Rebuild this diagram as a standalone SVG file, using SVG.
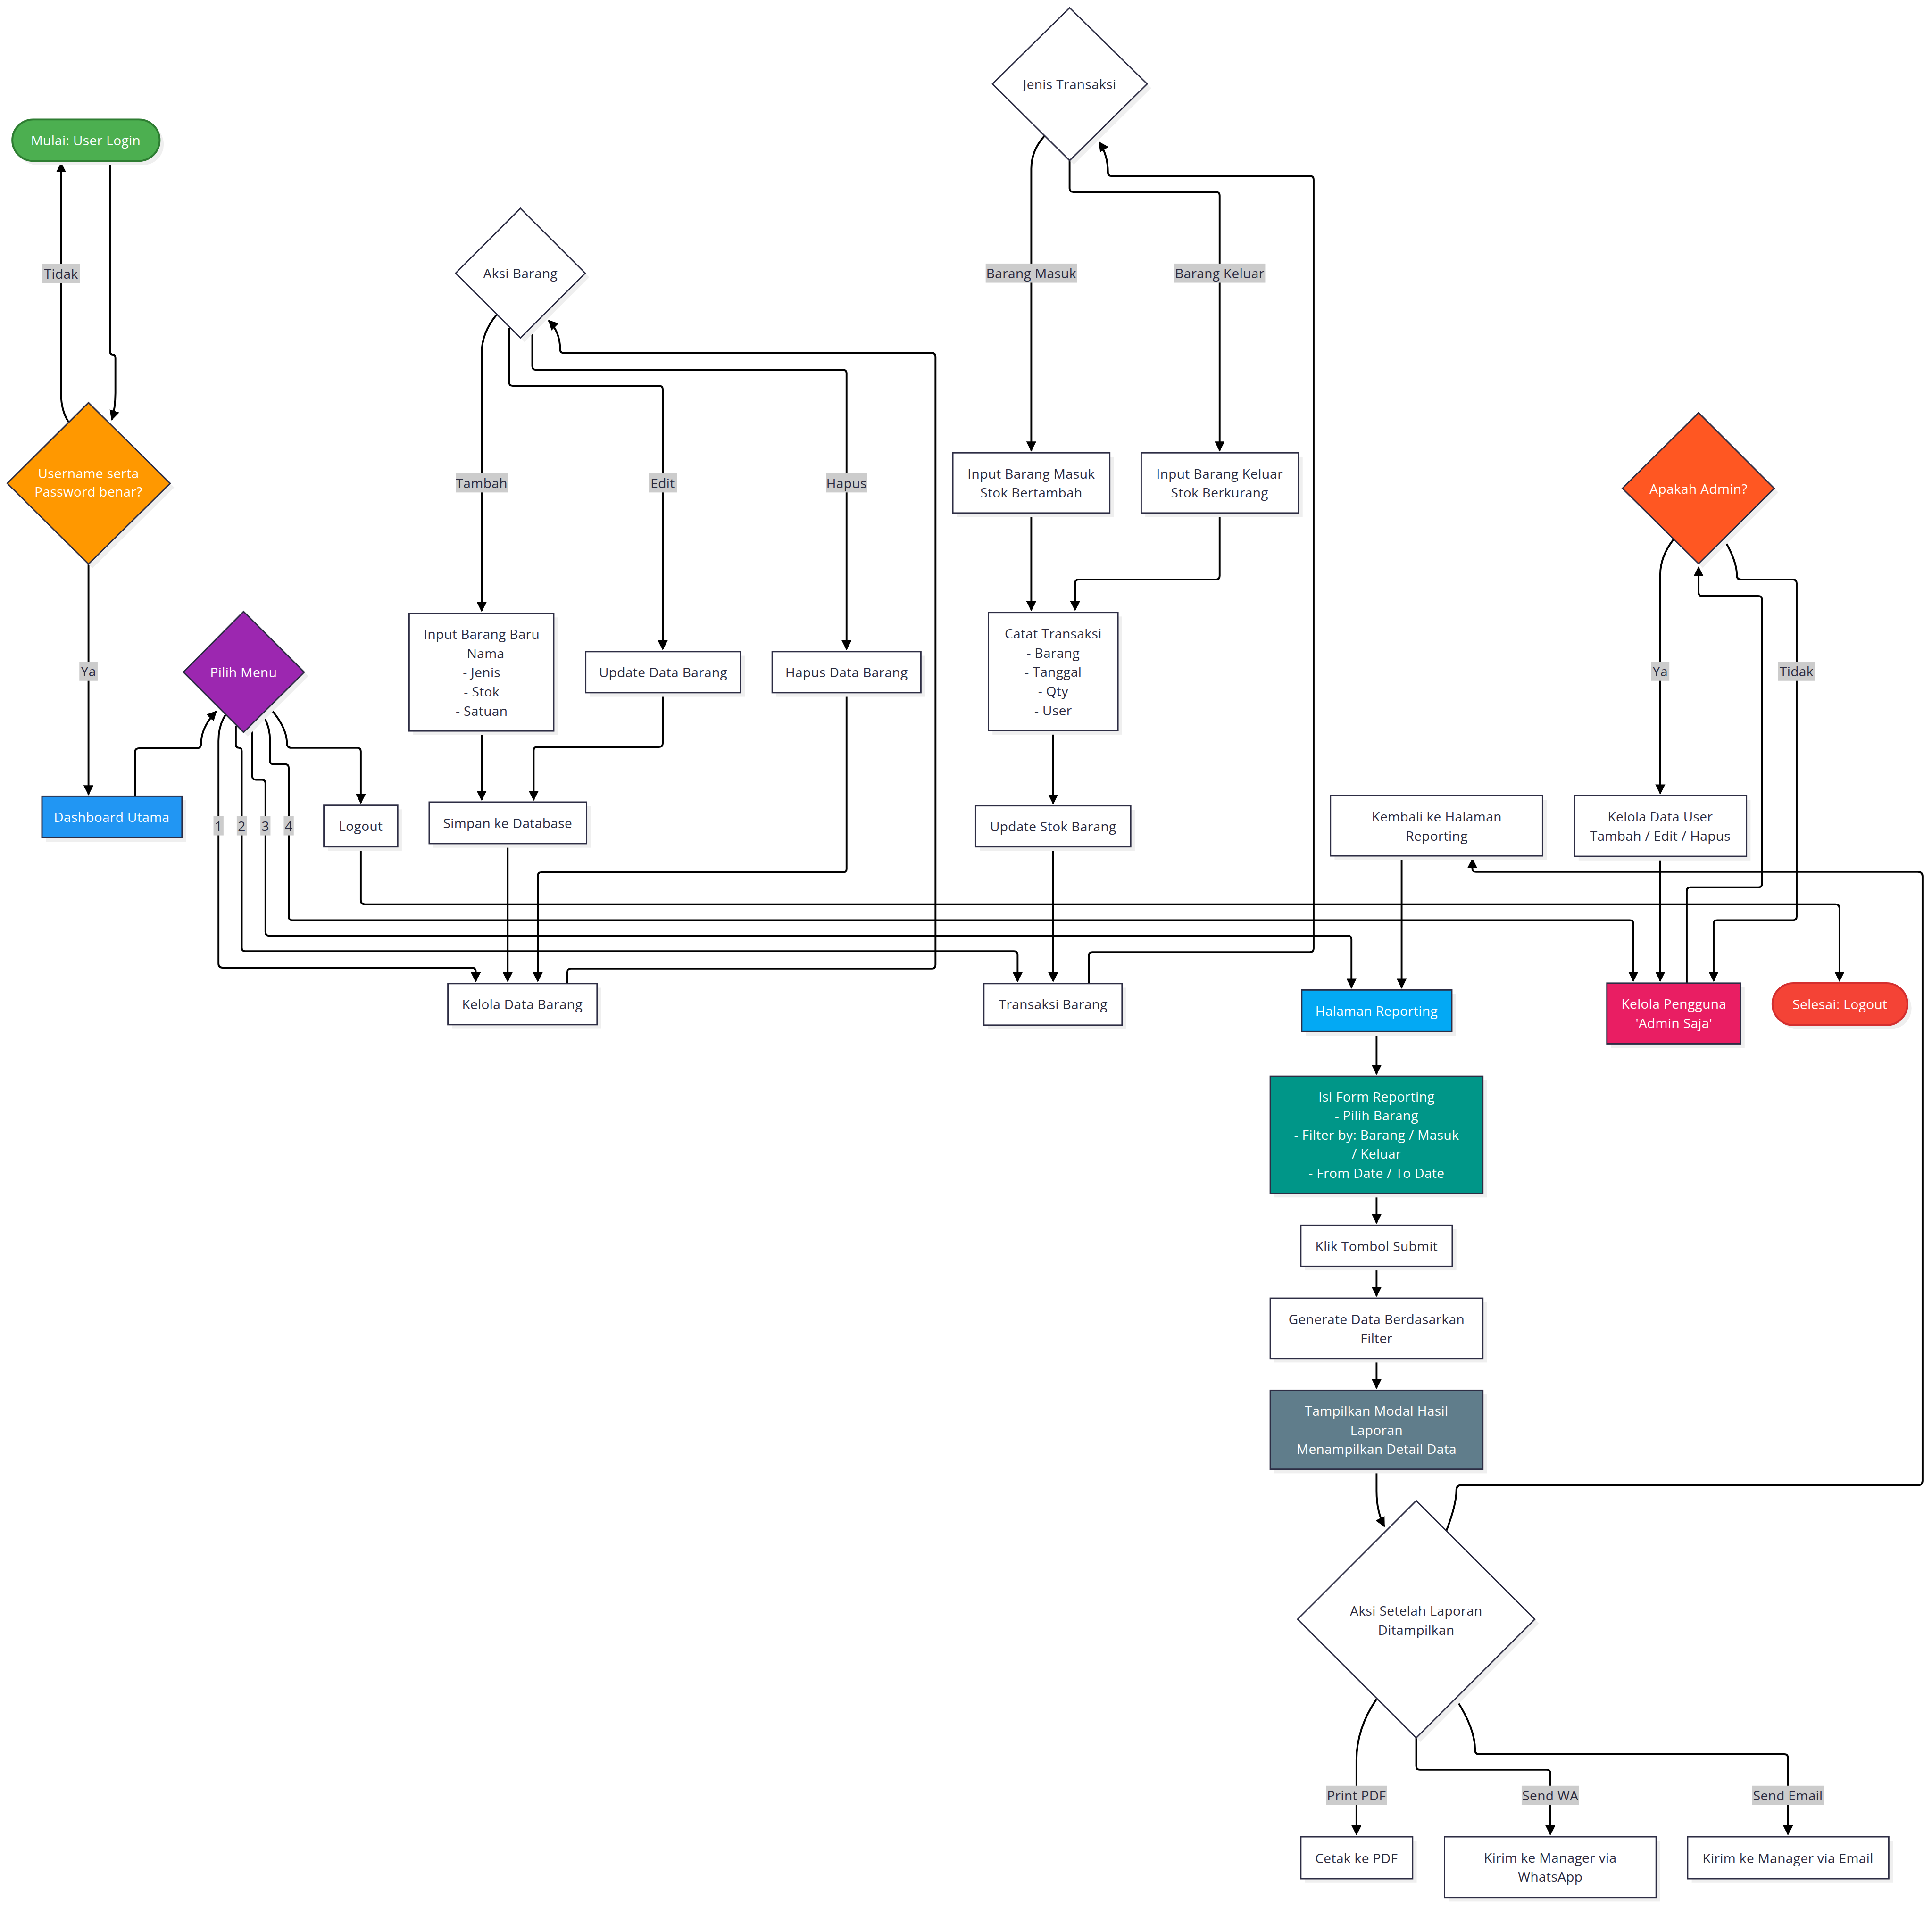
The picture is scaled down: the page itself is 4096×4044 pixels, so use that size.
<svg xmlns="http://www.w3.org/2000/svg" width="4096" height="4044" viewBox="0 0 4096 4044">
<defs>
<style>
.n{fill:#fff;stroke:#2d2d44;stroke-width:3}
.sh{fill:#efefef}
.t{font-family:'Open Sans','Noto Sans',sans-serif;font-size:29px;letter-spacing:0.4px;fill:#2b2b3f;text-anchor:middle;dominant-baseline:central}
.w{fill:#fff}
.e{fill:none;stroke:#000;stroke-width:4;marker-end:url(#ah)}
.lb{fill:#cccccc}
</style>
<marker id="ah" viewBox="0 0 10 10" refX="9" refY="5" markerUnits="userSpaceOnUse" markerWidth="22" markerHeight="22" orient="auto"><path d="M0,0 L10,5 L0,10 z" fill="#000"/></marker>
</defs>
<rect width="4096" height="4044" fill="#fff"/>
<g transform="scale(0.967)">
<g id="edges">
<path class="e" d="M241,353 V770 Q241,778 249,778 Q253,778 253,786 V862 Q253,895 245,920"/>
<path class="e" d="M150,925 Q134,900 134,865 V358"/>
<path class="e" d="M194,1237 V1742"/>
<path class="e" d="M296,1746 V1650 Q296,1641 305,1641 H431 Q441,1641 441,1630 Q441,1595 474,1560"/>
<path class="e" d="M495,1567 Q479,1590 479,1625 V2113 Q479,2122 488,2122 H1034 Q1043,2122 1043,2131 V2152"/>
<path class="e" d="M517,1592 V1633 Q517,1640 524,1640 Q530,1640 530,1647 V2078 Q530,2086 538,2086 H2223 Q2231,2086 2231,2094 V2152"/>
<path class="e" d="M553,1590 V1702 Q553,1710 561,1710 H574 Q582,1710 582,1718 V2044 Q582,2052 590,2052 H2955 Q2963,2052 2963,2060 V2166"/>
<path class="e" d="M575,1567 Q592,1590 592,1625 V1668 Q592,1676 600,1676 H625 Q633,1676 633,1684 V2010 Q633,2018 641,2018 H3573 Q3581,2018 3581,2026 V2151"/>
<path class="e" d="M592,1553 Q629,1595 629,1630 Q629,1640 639,1640 H783 Q791,1640 791,1648 V1761"/>
<path class="e" d="M791,1857 V1974 Q791,1983 800,1983 H4024 Q4033,1983 4033,1992 V2151"/>
<path class="e" d="M1244,2157 V2132 Q1244,2124 1252,2124 H2043 Q2051,2124 2051,2116 V782 Q2051,774 2043,774 H1236 Q1228,774 1228,766 Q1228,728 1203,703"/>
<path class="e" d="M1088,691 Q1056,730 1056,775 V1340"/>
<path class="e" d="M1116,719 V838 Q1116,846 1124,846 H1445 Q1453,846 1453,854 V1424"/>
<path class="e" d="M1167,719 V803 Q1167,811 1175,811 H1848 Q1856,811 1856,819 V1424"/>
<path class="e" d="M1056,1603 V1754"/>
<path class="e" d="M1453,1519 V1630 Q1453,1638 1445,1638 H1178 Q1170,1638 1170,1646 V1754"/>
<path class="e" d="M1113,1850 V2152"/>
<path class="e" d="M1856,1519 V1905 Q1856,1913 1848,1913 H1187 Q1179,1913 1179,1921 V2152"/>
<path class="e" d="M2290,298 Q2261,330 2261,370 V988"/>
<path class="e" d="M2345,352 V413 Q2345,421 2353,421 H2666 Q2674,421 2674,429 V988"/>
<path class="e" d="M2261,1125 V1338"/>
<path class="e" d="M2674,1125 V1263 Q2674,1271 2666,1271 H2365 Q2357,1271 2357,1279 V1338"/>
<path class="e" d="M2309,1602 V1762"/>
<path class="e" d="M2309,1857 V2152"/>
<path class="e" d="M2387,2157 V2096 Q2387,2088 2395,2088 H2872 Q2880,2088 2880,2080 V394 Q2880,386 2872,386 H2437 Q2429,386 2429,378 Q2429,340 2410,312"/>
<path class="e" d="M3018,2262 V2355"/>
<path class="e" d="M3018,2617 V2682"/>
<path class="e" d="M3018,2777 V2842"/>
<path class="e" d="M3018,2979 V3044"/>
<path class="e" d="M3018,3222 V3270 Q3018,3315 3035,3347"/>
<path class="e" d="M3171,3357 Q3193,3300 3193,3268 Q3193,3257 3204,3257 H4205 Q4215,3257 4215,3247 V1922 Q4215,1912 4205,1912 H3236 Q3228,1912 3228,1904 V1884"/>
<path class="e" d="M3073,1877 V2166"/>
<path class="e" d="M3669,1183 Q3640,1220 3640,1260 V1740"/>
<path class="e" d="M3781,1185 Q3808,1230 3808,1262 Q3808,1271 3817,1271 H3931 Q3939,1271 3939,1279 V2010 Q3939,2018 3931,2018 H3765 Q3757,2018 3757,2026 V2151"/>
<path class="e" d="M3640,1878 V2151"/>
<path class="e" d="M3698,2156 V1954 Q3698,1946 3706,1946 H3855 Q3863,1946 3863,1938 V1315 Q3863,1307 3855,1307 H3732 Q3724,1307 3724,1299 V1244"/>
<path class="e" d="M3018,3726 Q2974,3790 2974,3860 V4023"/>
<path class="e" d="M3105,3811 V3873 Q3105,3881 3113,3881 H3391 Q3399,3881 3399,3889 V4023"/>
<path class="e" d="M3192,3726 Q3234,3790 3234,3838 Q3234,3847 3243,3847 H3912 Q3920,3847 3920,3855 V4023"/>
</g>
<g id="edge-labels">
<rect class="lb" x="93" y="579" width="82" height="42"/><text class="t" x="134" y="600">Tidak</text>
<rect class="lb" x="174" y="1451" width="40" height="42"/><text class="t" x="194" y="1472">Ya</text>
<rect class="lb" x="468" y="1790" width="22" height="42"/><text class="t" x="479" y="1811">1</text>
<rect class="lb" x="519" y="1790" width="22" height="42"/><text class="t" x="530" y="1811">2</text>
<rect class="lb" x="571" y="1790" width="22" height="42"/><text class="t" x="582" y="1811">3</text>
<rect class="lb" x="622" y="1790" width="22" height="42"/><text class="t" x="633" y="1811">4</text>
<rect class="lb" x="999" y="1038" width="114" height="42"/><text class="t" x="1056" y="1059">Tambah</text>
<rect class="lb" x="1422" y="1038" width="62" height="42"/><text class="t" x="1453" y="1059">Edit</text>
<rect class="lb" x="1811" y="1038" width="90" height="42"/><text class="t" x="1856" y="1059">Hapus</text>
<rect class="lb" x="2161" y="578" width="200" height="42"/><text class="t" x="2261" y="599">Barang Masuk</text>
<rect class="lb" x="2574" y="578" width="200" height="42"/><text class="t" x="2674" y="599">Barang Keluar</text>
<rect class="lb" x="3620" y="1451" width="40" height="42"/><text class="t" x="3640" y="1472">Ya</text>
<rect class="lb" x="3898" y="1451" width="82" height="42"/><text class="t" x="3939" y="1472">Tidak</text>
<rect class="lb" x="2907" y="3916" width="134" height="42"/><text class="t" x="2974" y="3937">Print PDF</text>
<rect class="lb" x="3336" y="3916" width="126" height="42"/><text class="t" x="3399" y="3937">Send WA</text>
<rect class="lb" x="3841" y="3916" width="158" height="42"/><text class="t" x="3920" y="3937">Send Email</text>
</g>
<g id="n-mulai"><rect class="sh" x="36" y="271" width="323" height="91" rx="45.5"/><rect x="27" y="262" width="323" height="91" rx="45.5" fill="#4CAF50" stroke="#2E7D32" stroke-width="4"/><text class="t w" x="188" y="307">Mulai: User Login</text></g>
<g id="n-login"><polygon class="sh" transform="translate(9,9)" points="194,883 373,1060 194,1237 16,1060"/><polygon points="194,883 373,1060 194,1237 16,1060" fill="#FF9800" stroke="#2d2d44" stroke-width="3"/><text class="t w" x="194"><tspan x="194" y="1037">Username serta</tspan><tspan x="194" y="1078">Password benar?</tspan></text></g>
<g id="n-dashboard"><rect class="sh" x="101" y="1755" width="307" height="91"/><rect x="92" y="1746" width="307" height="91" fill="#2196F3" stroke="#2d2d44" stroke-width="3"/><text class="t w" x="245" y="1791">Dashboard Utama</text></g>
<g id="n-pilih"><polygon class="sh" transform="translate(9,9)" points="534,1341 667,1474 534,1606 402,1474"/><polygon points="534,1341 667,1474 534,1606 402,1474" fill="#9C27B0" stroke="#2d2d44" stroke-width="3"/><text class="t w" x="534" y="1474">Pilih Menu</text></g>
<g id="n-logout"><rect class="sh" x="719" y="1775" width="162" height="91"/><rect class="n" x="710" y="1766" width="162" height="91"/><text class="t" x="791" y="1811">Logout</text></g>
<g id="n-aksibarang"><polygon class="sh" transform="translate(9,9)" points="1141,457 1283,599 1141,741 999,599"/><polygon class="n" points="1141,457 1283,599 1141,741 999,599"/><text class="t" x="1141" y="599">Aksi Barang</text></g>
<g id="n-inputbaru"><rect class="sh" x="906" y="1354" width="317" height="258"/><rect class="n" x="897" y="1345" width="317" height="258"/><text class="t"><tspan x="1056" y="1390">Input Barang Baru</tspan><tspan x="1056" y="1432">- Nama</tspan><tspan x="1056" y="1474">- Jenis</tspan><tspan x="1056" y="1516">- Stok</tspan><tspan x="1056" y="1558">- Satuan</tspan></text></g>
<g id="n-updatebarang"><rect class="sh" x="1293" y="1438" width="340" height="90"/><rect class="n" x="1284" y="1429" width="340" height="90"/><text class="t" x="1454" y="1474">Update Data Barang</text></g>
<g id="n-hapusbarang"><rect class="sh" x="1702" y="1438" width="326" height="90"/><rect class="n" x="1693" y="1429" width="326" height="90"/><text class="t" x="1856" y="1474">Hapus Data Barang</text></g>
<g id="n-simpan"><rect class="sh" x="950" y="1768" width="345" height="91"/><rect class="n" x="941" y="1759" width="345" height="91"/><text class="t" x="1113" y="1805">Simpan ke Database</text></g>
<g id="n-kelolabarang"><rect class="sh" x="991" y="2166" width="327" height="90"/><rect class="n" x="982" y="2157" width="327" height="90"/><text class="t" x="1145" y="2202">Kelola Data Barang</text></g>
<g id="n-jenis"><polygon class="sh" transform="translate(9,9)" points="2345,17 2515,184 2345,352 2176,184"/><polygon class="n" points="2345,17 2515,184 2345,352 2176,184"/><text class="t" x="2345" y="184">Jenis Transaksi</text></g>
<g id="n-masuk"><rect class="sh" x="2098" y="1002" width="344" height="132"/><rect class="n" x="2089" y="993" width="344" height="132"/><text class="t"><tspan x="2261" y="1038">Input Barang Masuk</tspan><tspan x="2261" y="1080">Stok Bertambah</tspan></text></g>
<g id="n-keluar"><rect class="sh" x="2511" y="1002" width="345" height="132"/><rect class="n" x="2502" y="993" width="345" height="132"/><text class="t"><tspan x="2674" y="1038">Input Barang Keluar</tspan><tspan x="2674" y="1080">Stok Berkurang</tspan></text></g>
<g id="n-catat"><rect class="sh" x="2176" y="1352" width="284" height="259"/><rect class="n" x="2167" y="1343" width="284" height="259"/><text class="t"><tspan x="2309" y="1389">Catat Transaksi</tspan><tspan x="2309" y="1431">- Barang</tspan><tspan x="2309" y="1473">- Tanggal</tspan><tspan x="2309" y="1515">- Qty</tspan><tspan x="2309" y="1557">- User</tspan></text></g>
<g id="n-updatestok"><rect class="sh" x="2148" y="1776" width="340" height="90"/><rect class="n" x="2139" y="1767" width="340" height="90"/><text class="t" x="2309" y="1812">Update Stok Barang</text></g>
<g id="n-transaksi"><rect class="sh" x="2166" y="2166" width="303" height="91"/><rect class="n" x="2157" y="2157" width="303" height="91"/><text class="t" x="2309" y="2202">Transaksi Barang</text></g>
<g id="n-kembali"><rect class="sh" x="2926" y="1754" width="465" height="132"/><rect class="n" x="2917" y="1745" width="465" height="132"/><text class="t"><tspan x="3150" y="1790">Kembali ke Halaman</tspan><tspan x="3150" y="1832">Reporting</tspan></text></g>
<g id="n-reporting"><rect class="sh" x="2863" y="2180" width="329" height="91"/><rect x="2854" y="2171" width="329" height="91" fill="#03A9F4" stroke="#2d2d44" stroke-width="3"/><text class="t w" x="3018" y="2216">Halaman Reporting</text></g>
<g id="n-admin"><polygon class="sh" transform="translate(9,9)" points="3724,905 3890,1071 3724,1236 3557,1071"/><polygon points="3724,905 3890,1071 3724,1236 3557,1071" fill="#FF5722" stroke="#2d2d44" stroke-width="3"/><text class="t w" x="3724" y="1071">Apakah Admin?</text></g>
<g id="n-datauser"><rect class="sh" x="3461" y="1754" width="377" height="133"/><rect class="n" x="3452" y="1745" width="377" height="133"/><text class="t"><tspan x="3640" y="1790">Kelola Data User</tspan><tspan x="3640" y="1832">Tambah / Edit / Hapus</tspan></text></g>
<g id="n-pengguna"><rect class="sh" x="3532" y="2165" width="293" height="133"/><rect x="3523" y="2156" width="293" height="133" fill="#E91E63" stroke="#2d2d44" stroke-width="3"/><text class="t w"><tspan x="3670" y="2201">Kelola Pengguna</tspan><tspan x="3670" y="2243">'Admin Saja'</tspan></text></g>
<g id="n-selesai"><rect class="sh" x="3895" y="2165" width="296" height="92" rx="46"/><rect x="3886" y="2156" width="296" height="92" rx="46" fill="#F44336" stroke="#D32F2F" stroke-width="4"/><text class="t w" x="4034" y="2202">Selesai: Logout</text></g>
<g id="n-isiform"><rect class="sh" x="2794" y="2369" width="466" height="257"/><rect x="2785" y="2360" width="466" height="257" fill="#009688" stroke="#2d2d44" stroke-width="3"/><text class="t w"><tspan x="3018" y="2404">Isi Form Reporting</tspan><tspan x="3018" y="2446">- Pilih Barang</tspan><tspan x="3018" y="2488">- Filter by: Barang / Masuk</tspan><tspan x="3018" y="2530">/ Keluar</tspan><tspan x="3018" y="2572">- From Date / To Date</tspan></text></g>
<g id="n-submit"><rect class="sh" x="2861" y="2696" width="332" height="90"/><rect class="n" x="2852" y="2687" width="332" height="90"/><text class="t" x="3018" y="2732">Klik Tombol Submit</text></g>
<g id="n-generate"><rect class="sh" x="2794" y="2856" width="466" height="132"/><rect class="n" x="2785" y="2847" width="466" height="132"/><text class="t"><tspan x="3018" y="2892">Generate Data Berdasarkan</tspan><tspan x="3018" y="2934">Filter</tspan></text></g>
<g id="n-modal"><rect class="sh" x="2794" y="3058" width="466" height="173"/><rect x="2785" y="3049" width="466" height="173" fill="#607D8B" stroke="#2d2d44" stroke-width="3"/><text class="t w"><tspan x="3018" y="3093">Tampilkan Modal Hasil</tspan><tspan x="3018" y="3135">Laporan</tspan><tspan x="3018" y="3177">Menampilkan Detail Data</tspan></text></g>
<g id="n-aksilaporan"><polygon class="sh" transform="translate(9,9)" points="3105,3291 3365,3551 3105,3811 2845,3551"/><polygon class="n" points="3105,3291 3365,3551 3105,3811 2845,3551"/><text class="t"><tspan x="3105" y="3532">Aksi Setelah Laporan</tspan><tspan x="3105" y="3574">Ditampilkan</tspan></text></g>
<g id="n-pdf"><rect class="sh" x="2861" y="4037" width="245" height="92"/><rect class="n" x="2852" y="4028" width="245" height="92"/><text class="t" x="2974" y="4074">Cetak ke PDF</text></g>
<g id="n-wa"><rect class="sh" x="3176" y="4037" width="464" height="133"/><rect class="n" x="3167" y="4028" width="464" height="133"/><text class="t"><tspan x="3399" y="4073">Kirim ke Manager via</tspan><tspan x="3399" y="4115">WhatsApp</tspan></text></g>
<g id="n-email"><rect class="sh" x="3709" y="4037" width="441" height="92"/><rect class="n" x="3700" y="4028" width="441" height="92"/><text class="t" x="3920" y="4074">Kirim ke Manager via Email</text></g>
</g>
</svg>
